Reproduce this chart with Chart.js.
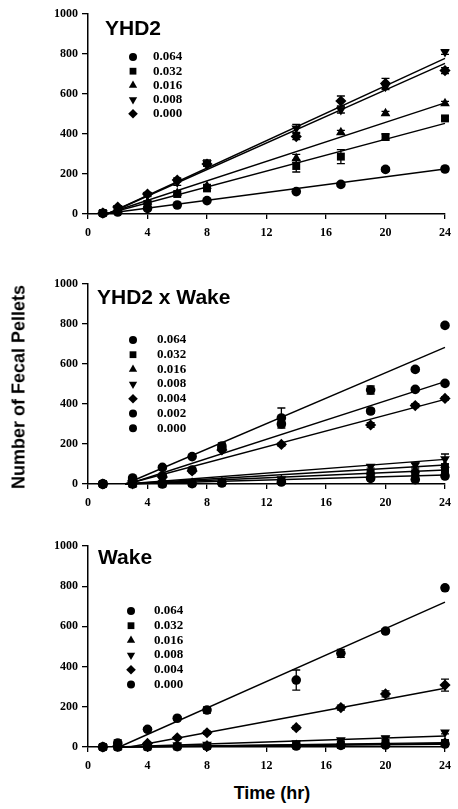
<!DOCTYPE html>
<html>
<head>
<meta charset="utf-8">
<script src="https://cdn.jsdelivr.net/npm/chart.js@4.4.1/dist/chart.umd.min.js"></script>
<style>
  body { margin: 0; background: #fff; width: 458px; height: 809px; position: relative; overflow: hidden; }
  canvas { position: absolute; left: 0; }
  .ytitle { position: absolute; left: 19px; top: 387px; transform: translate(-50%, -50%) rotate(-90deg);
            font: bold 18px "Liberation Sans", Arial, sans-serif; white-space: nowrap; }
  .xtitle { position: absolute; left: 272px; top: 793px; transform: translate(-50%, -50%);
            font: bold 18px "Liberation Sans", Arial, sans-serif; white-space: nowrap; }
</style>
</head>
<body>
<canvas id="p1" width="458" height="245" style="top:0px"></canvas>
<canvas id="p2" width="458" height="265" style="top:250px"></canvas>
<canvas id="p3" width="458" height="258" style="top:520px"></canvas>
<div class="ytitle">Number of Fecal Pellets</div>
<div class="xtitle">Time (hr)</div>
<script>
// ---- YHD2 ----
const t1 = [1, 2, 4, 6, 8, 14, 17, 20, 24];
const doses1 = ['0.064', '0.032', '0.016', '0.008', '0.000'];
const yhd2_064 = [3, 10, 28, 45, 67, 112, 148, 223, 225];
const yhd2_032 = [5, 20, 50, 100, 128, 240, 287, 385, 478];
const yhd2_016 = [5, 25, 60, 105, 140, 278, 408, 503, 553];
const yhd2_008 = [5, 30, 95, 158, 255, 428, 520, 637, 810];
const yhd2_000 = [5, 35, 100, 170, 250, 387, 565, 653, 717];
const yhd2Err = [
  [0, 0, 0, 0, 0, 8, 10, 10, 10],
  [0, 0, 0, 0, 10, 30, 35, 15, 10],
  [0, 0, 5, 5, 8, 20, 10, 10, 10],
  [0, 5, 8, 15, 15, 20, 15, 15, 12],
  [0, 5, 8, 10, 10, 15, 25, 25, 15]
];
const yhd2FitStart = [1, 1.2, 1.2, 1.3, 1.3];
const yhd2FitEnd = [225, 453, 556, 778, 753];

// ---- YHD2 x Wake ----
const t2 = [1, 3, 5, 7, 9, 13, 19, 22, 24];
const doses2 = ['0.064', '0.032', '0.016', '0.008', '0.004', '0.002', '0.000'];
const cross_064 = [0, 0, 0, 2, 5, 10, 28, 22, 40];
const cross_032 = [0, 0, 2, 4, 8, 15, 45, 50, 70];
const cross_016 = [0, 0, 3, 6, 10, 20, 62, 70, 95];
const cross_008 = [0, 0, 5, 8, 15, 25, 87, 95, 125];
const cross_004 = [0, 15, 35, 65, 170, 198, 295, 392, 428];
const cross_002 = [0, 20, 40, 70, 178, 300, 365, 473, 503];
const cross_000 = [0, 30, 83, 137, 190, 330, 470, 573, 793];
const crossErr = [
  [0, 0, 0, 0, 0, 0, 5, 5, 5],
  [0, 0, 0, 0, 0, 0, 5, 5, 5],
  [0, 0, 0, 0, 0, 0, 5, 5, 5],
  [0, 0, 0, 0, 0, 0, 8, 10, 25],
  [0, 0, 0, 0, 0, 8, 12, 10, 8],
  [0, 0, 0, 0, 10, 10, 12, 8, 8],
  [0, 5, 8, 8, 15, 50, 20, 10, 10]
];
const crossFitStart = [2.5, 2.5, 2.5, 2.5, 2.6, 2.7, 2.5];
const crossFitEnd = [45, 70, 95, 123, 423, 512, 683];

// ---- Wake ----
const t3 = [1, 2, 4, 6, 8, 14, 17, 20, 24];
const doses3 = ['0.064', '0.032', '0.016', '0.008', '0.004', '0.000'];
const wake_064 = [0, 0, 1, 2, 3, 5, 8, 10, 15];
const wake_032 = [0, 1, 2, 3, 5, 8, 10, 15, 20];
const wake_016 = [0, 2, 3, 5, 8, 10, 15, 20, 25];
const wake_008 = [0, 3, 5, 8, 12, 20, 35, 45, 73];
const wake_004 = [0, 5, 18, 46, 71, 96, 196, 264, 308];
const wake_000 = [0, 20, 88, 143, 184, 333, 466, 577, 792];
const wakeErr = [
  [0, 0, 0, 0, 0, 0, 0, 0, 0],
  [0, 0, 0, 0, 0, 0, 0, 0, 0],
  [0, 0, 0, 0, 0, 0, 0, 0, 5],
  [0, 0, 0, 0, 0, 5, 5, 8, 8],
  [0, 0, 5, 5, 8, 8, 12, 15, 30],
  [0, 15, 8, 8, 15, 50, 20, 10, 10]
];
const wakeFitStart = [2, 2, 2, 2, 2.8, 2.1];
const wakeFitEnd = [14, 18, 22, 55, 292, 721];

const styles = {
  '0.064': ['circle', 0], '0.032': ['rect', 0], '0.016': ['triangle', 0],
  '0.008': ['triangle', 180], '0.004': ['rectRot', 0], '0.002': ['circle', 0]
};
function styleFor(d, n) {
  if (d === '0.000') return n === 5 ? ['rectRot', 0] : ['circle', 0];
  return styles[d];
}

// draws error bars, the panel label and the in-plot legend
const panelDecor = {
  id: 'panelDecor',
  afterDatasetsDraw(chart, args, o) {
    const ctx = chart.ctx, a = chart.chartArea;
    const xs = chart.scales.x, ys = chart.scales.y;
    ctx.save();
    ctx.strokeStyle = '#000';
    ctx.fillStyle = '#000';
    ctx.lineWidth = 1.3;
    chart.data.datasets.forEach(ds => {
      if (!ds.err) return;
      ds.data.forEach((p, j) => {
        const e = ds.err[j];
        if (!e) return;
        const px = xs.getPixelForValue(p.x);
        const y1 = ys.getPixelForValue(p.y - e), y2 = ys.getPixelForValue(p.y + e);
        ctx.beginPath();
        ctx.moveTo(px, y1); ctx.lineTo(px, y2);
        ctx.moveTo(px - 4, y1); ctx.lineTo(px + 4, y1);
        ctx.moveTo(px - 4, y2); ctx.lineTo(px + 4, y2);
        ctx.stroke();
      });
    });
    ctx.font = 'bold 21px "Liberation Sans", Arial, sans-serif';
    ctx.textAlign = 'left';
    ctx.textBaseline = 'middle';
    ctx.fillText(o.title, a.left + o.tx, a.top + o.ty);
    let row = 0;
    ctx.font = 'bold 13px "Liberation Serif", "Times New Roman", serif';
    chart.data.datasets.forEach(ds => {
      if (ds.isFit) return;
      const y = a.top + o.ly + row * o.step;
      const r = ds.pointStyle === 'circle' ? 4 : 4.8;
      Chart.helpers.drawPoint(ctx, { pointStyle: ds.pointStyle, rotation: ds.pointRotation || 0, radius: r, borderWidth: 0 }, o.sx, y);
      ctx.fillText(ds.label, o.lx, y);
      row++;
    });
    ctx.restore();
  }
};

function makePanel(id, t, doses, series, errs, fitStart, fitEnd, padTop, deco) {
  const datasets = [];
  series.forEach((vals, i) => {
    const st = styleFor(doses[i], doses.length);
    datasets.push({
      label: doses[i],
      data: vals.map((v, j) => ({ x: t[j], y: v })),
      err: errs[i],
      pointStyle: st[0],
      pointRotation: st[1],
      pointRadius: st[0] === 'circle' ? 4.8 : 5.6,
      pointBackgroundColor: '#000',
      pointBorderColor: '#000',
      pointBorderWidth: 0,
      showLine: false,
      clip: false
    });
  });
  series.forEach((vals, i) => {
    datasets.push({
      isFit: true,
      label: 'fit ' + doses[i],
      data: [{ x: fitStart[i], y: 0 }, { x: 24, y: fitEnd[i] }],
      showLine: true,
      borderColor: '#000',
      borderWidth: 1.4,
      pointRadius: 0,
      clip: false
    });
  });
  const tickFont = { family: '"Liberation Serif", "Times New Roman", serif', weight: 'bold', size: 12 };
  return new Chart(document.getElementById(id), {
    type: 'scatter',
    data: { datasets },
    options: {
      responsive: false,
      animation: false,
      layout: { padding: { top: padTop, right: 8, left: 0, bottom: 0 } },
      plugins: { legend: { display: false }, tooltip: { enabled: false }, panelDecor: deco },
      scales: {
        x: {
          type: 'linear', min: 0, max: 24,
          afterFit(s) { s.height = 31; },
          ticks: { stepSize: 4, color: '#000', font: tickFont, padding: 7, maxRotation: 0,
                   callback: v => String(v) },
          grid: { drawOnChartArea: false, tickLength: 5, color: '#000', lineWidth: 1.3 },
          border: { color: '#000', width: 1.5 }
        },
        y: {
          min: 0, max: 1000,
          afterFit(s) { s.width = 88; },
          ticks: { stepSize: 200, color: '#000', font: tickFont, padding: 4,
                   callback: v => String(v) },
          grid: { drawOnChartArea: false, tickLength: 6, color: '#000', lineWidth: 1.3 },
          border: { color: '#000', width: 1.5 }
        }
      }
    },
    plugins: [panelDecor]
  });
}

makePanel('p1', t1, doses1, [yhd2_064, yhd2_032, yhd2_016, yhd2_008, yhd2_000],
  yhd2Err, yhd2FitStart, yhd2FitEnd, 14,
  { title: 'YHD2', tx: 17, ty: 15, sx: 133, lx: 153, ly: 43, step: 14.2 });

makePanel('p2', t2, doses2, [cross_064, cross_032, cross_016, cross_008, cross_004, cross_002, cross_000],
  crossErr, crossFitStart, crossFitEnd, 34,
  { title: 'YHD2 x Wake', tx: 9, ty: 14, sx: 133, lx: 157, ly: 56, step: 14.7 });

makePanel('p3', t3, doses3, [wake_064, wake_032, wake_016, wake_008, wake_004, wake_000],
  wakeErr, wakeFitStart, wakeFitEnd, 26,
  { title: 'Wake', tx: 10, ty: 12, sx: 131, lx: 154, ly: 65, step: 14.7 });
</script>
</body>
</html>
